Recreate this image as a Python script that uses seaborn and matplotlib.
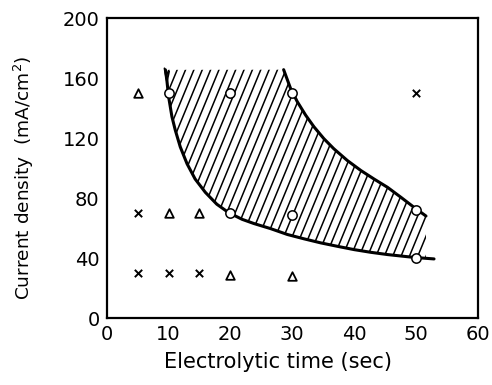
import numpy as np
import pandas as pd
import matplotlib
matplotlib.use("Agg")
import matplotlib.pyplot as plt
import seaborn as sns
from matplotlib.patches import Polygon

# ---- data ----
circle_x = [10, 20, 30, 20, 30, 50, 50]
circle_y = [150, 150, 150, 70, 69, 72, 40]
tri_x = [5, 10, 15, 20, 30]
tri_y = [150, 70, 70, 29, 28]
cross_x = [5, 5, 10, 15, 50]
cross_y = [70, 30, 30, 30, 150]

lower_x = [9.5, 9.75, 10.0, 10.55, 11.1, 11.9, 13.0, 14.3, 15.95, 17.8, 19.7,
           21.9, 23.8, 26.5, 29.2, 31.9, 34.6, 37.3, 40.0, 42.7, 45.4, 49.7, 52.9]
lower_y = [165.5, 158.0, 148.0, 134.3, 125.2, 114.1, 102.8, 92.7, 83.8, 75.9, 70.3,
           65.8, 63.0, 59.6, 55.7, 52.8, 50.1, 47.8, 45.6, 43.8, 42.3, 40.4, 39.4]
upper_x = [28.6, 29.7, 30.8, 32.15, 33.5, 35.1, 36.7, 38.9, 41.1, 43.2, 45.4,
           47.55, 49.7, 51.6]
upper_y = [165.6, 153.3, 144.3, 135.3, 127.5, 119.6, 112.9, 105.0, 98.3, 92.7, 87.1,
           80.5, 73.7, 68.0]

x_ticks = [0, 10, 20, 30, 40, 50, 60]
y_ticks = [0, 40, 80, 120, 160, 200]

sns.set_style("white")
plt.rcParams['font.family'] = ['DejaVu Sans']
plt.rcParams['text.color'] = 'black'
plt.rcParams['axes.labelcolor'] = 'black'

fig = plt.figure(figsize=(4.92, 3.85), dpi=100)
ax = fig.add_axes([0.2167, 0.174, 0.9715 - 0.2167, 0.953 - 0.174])

# hatched region boundary: lower curve, right edge, upper curve reversed, flat top
region_x = lower_x[:-1] + [51.6] + upper_x[::-1]
region_y = lower_y[:-1] + [39.6] + upper_y[::-1]
poly = Polygon(np.column_stack([region_x, region_y]), closed=True,
               facecolor='none', edgecolor='none')
ax.add_patch(poly)

# steep diagonal hatch lines clipped to the region
slope = 10.0  # data units y per x
spacing = 1.35
for x0 in np.arange(-20, 60, spacing):
    xs = np.array([x0, x0 + 200 / slope])
    ys = np.array([0, 200])
    ln, = ax.plot(xs, ys, color='black', lw=1.1, solid_capstyle='butt')
    ln.set_clip_path(poly)

curves = pd.DataFrame({
    'x': lower_x + upper_x,
    'y': lower_y + upper_y,
    'curve': ['lower'] * len(lower_x) + ['upper'] * len(upper_x),
})
sns.lineplot(data=curves, x='x', y='y', units='curve', estimator=None,
             sort=False, color='black', lw=2.2, ax=ax)

# small fork at the top of the lower curve
ax.plot([9.35, 9.75, 10.1], [166.5, 157.8, 164.5], color='black', lw=1.3)

pts = pd.DataFrame({
    'x': circle_x + tri_x + cross_x,
    'y': circle_y + tri_y + cross_y,
    'kind': ['o'] * len(circle_x) + ['t'] * len(tri_x) + ['c'] * len(cross_x),
})
sns.scatterplot(data=pts[pts.kind == 'o'], x='x', y='y', marker='o', s=45,
                facecolor='white', edgecolor='black', linewidth=1.1, ax=ax, zorder=5)
sns.scatterplot(data=pts[pts.kind == 't'], x='x', y='y', marker='^', s=38,
                facecolor='white', edgecolor='black', linewidth=1.3, ax=ax, zorder=5)
sns.scatterplot(data=pts[pts.kind == 'c'], x='x', y='y', marker='x', s=28,
                color='black', linewidth=1.4, ax=ax, zorder=5)

ax.set_xlim(0, 60)
ax.set_ylim(0, 200)
ax.set_xticks(x_ticks)
ax.set_yticks(y_ticks)
ax.tick_params(direction='in', length=5, width=1.2, labelsize=14,
               colors='black', labelcolor='black', pad=5, top=False, right=False)
for s in ax.spines.values():
    s.set_color('black')
    s.set_linewidth(1.6)
ax.set_xlabel('Electrolytic time (sec)', fontsize=15, color='black')
ax.set_ylabel('Current density  (mA/cm$^2$)', fontsize=13.3, color='black')
ax.xaxis.set_label_coords(0.461, -0.112)
ax.yaxis.set_label_coords(-0.19, 0.468)

fig.savefig('out.png', dpi=100)
